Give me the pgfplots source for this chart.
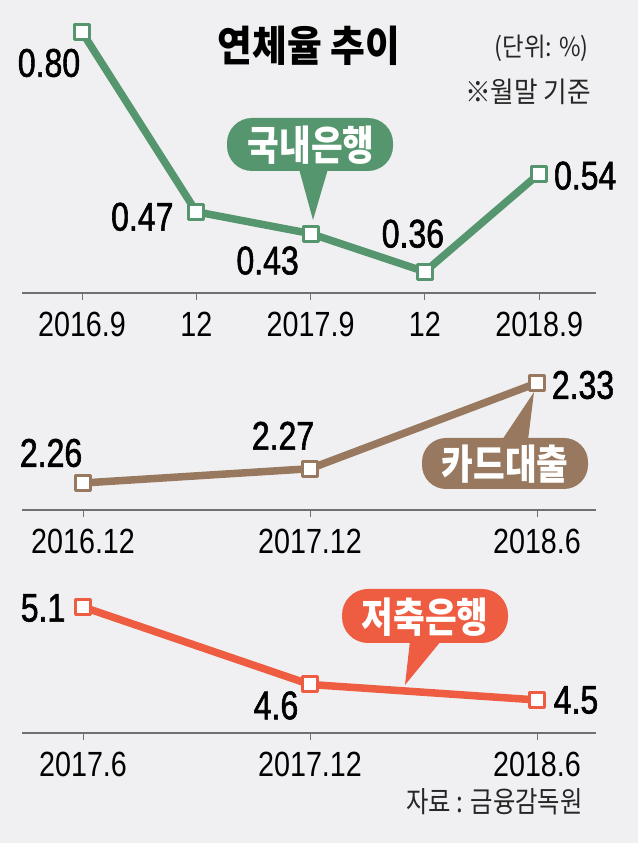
\documentclass[border=0pt]{standalone}
\usepackage{pgfplots}
\pgfplotsset{compat=1.18}
\usepackage{fontspec}
\newfontfamily\cjk[FakeStretch=0.9]{Noto Sans CJK KR}
\newfontfamily\cjkc[FakeStretch=0.84]{Noto Sans CJK KR}
\newfontfamily\numfont[FakeStretch=0.82]{Liberation Sans}
\newfontfamily\lblfont[FakeStretch=0.8,FakeBold=1.4]{Liberation Sans}
\definecolor{bg}{HTML}{F0F0F2}
\definecolor{cgreen}{HTML}{56966E}
\definecolor{cbrown}{HTML}{98795F}
\definecolor{cred}{HTML}{EE5C42}
\definecolor{axgray}{HTML}{707070}
\pgfplotsset{
  panel/.style={
    scale only axis, width=574pt, clip=false,
    axis x line*=bottom, axis y line=none,
    axis line style={axgray, line width=1.1pt},
    xtick align=outside, major tick length=7pt,
    xtick style={axgray, line width=0.9pt},
    ytick=\empty,
    xticklabel style={font=\numfont\fontsize{35}{35}\selectfont, inner sep=0pt, anchor=north, yshift=-11.5pt, text=black},
    every axis plot/.append style={line width=7.5pt, line join=round, mark=square*, mark size=7.5pt,
      mark options={fill=white, line width=3pt}},
  },
}
\tikzset{dl/.style={font=\lblfont\fontsize{40}{40}\selectfont, inner sep=0pt, anchor=center, text=black}}
\begin{document}
\begin{tikzpicture}
\path[use as bounding box, fill=bg] (0,0) rectangle (638pt,843pt);
\begin{scope}[x=1pt, y=-1pt, yshift=843pt]
  % callouts
  \fill[cgreen, rounded corners=25pt] (227,118) rectangle (393,171);
  \fill[cgreen] (299,169) -- (313,220) -- (328,169) -- cycle;
  \fill[cbrown, rounded corners=24pt] (422,438) rectangle (588,489);
  \fill[cbrown] (502,440) -- (534,392) -- (528,440) -- cycle;
  \fill[cred, rounded corners=26pt] (342,589) rectangle (508,643);
  \fill[cred] (410,641) -- (405,685) -- (441,641) -- cycle;
\end{scope}

% Panel 1: domestic banks
\begin{axis}[panel, at={(22pt,550pt)}, anchor=south west, height=273pt,
  xmin=-0.525, xmax=4.497, ymin=0.321, ymax=0.822,
  xtick={0,1,2,3,4}, xticklabels={2016.9,12,2017.9,12,2018.9}]
  \addplot[cgreen] coordinates {(0,0.80) (1,0.47) (2,0.43) (3,0.36) (4,0.54)};
  \node[dl, xshift=-33pt, yshift=-31pt] at (axis cs:0,0.80) {0.80};
  \node[dl, xshift=-54pt, yshift=-5pt] at (axis cs:1,0.47) {0.47};
  \node[dl, xshift=-43pt, yshift=-27pt] at (axis cs:2,0.43) {0.43};
  \node[dl, xshift=-12pt, yshift=38pt] at (axis cs:3,0.36) {0.36};
  \node[dl, xshift=46pt, yshift=-2pt] at (axis cs:4,0.54) {0.54};
\end{axis}

% Panel 2: card loans
\begin{axis}[panel, at={(22pt,333pt)}, anchor=south west, height=140pt,
  xmin=-0.269, xmax=2.26, ymin=2.2411, ymax=2.3391,
  xtick={0,1,2}, xticklabels={2016.12,2017.12,2018.6}]
  \addplot[cbrown] coordinates {(0,2.26) (1,2.27) (2,2.33)};
  \node[dl, xshift=-32pt, yshift=30pt] at (axis cs:0,2.26) {2.26};
  \node[dl, xshift=-27pt, yshift=33pt] at (axis cs:1,2.27) {2.27};
  \node[dl, xshift=46pt, yshift=-2pt] at (axis cs:2,2.33) {2.33};
\end{axis}

% Panel 3: savings banks
\begin{axis}[panel, at={(22pt,110pt)}, anchor=south west, height=143pt,
  xmin=-0.269, xmax=2.26, ymin=4.287, ymax=5.2097,
  xtick={0,1,2}, xticklabels={2017.6,2017.12,2018.6}]
  \addplot[cred] coordinates {(0,5.1) (1,4.6) (2,4.5)};
  \node[dl, xshift=-40pt, yshift=-1pt] at (axis cs:0,5.1) {5.1};
  \node[dl, xshift=-34pt, yshift=-21pt] at (axis cs:1,4.6) {4.6};
  \node[dl, xshift=39pt, yshift=0pt] at (axis cs:2,4.5) {4.5};
\end{axis}

\begin{scope}[x=1pt, y=-1pt, yshift=843pt]
  \node[font=\cjk\bfseries\fontsize{42}{42}\selectfont, inner sep=0pt] at (309,46) {연체율 추이};
  \node[font=\cjk\fontsize{26}{26}\selectfont, inner sep=0pt, anchor=east, text=black!85] at (589,48) {(단위: \%)};
  \node[font=\cjk\fontsize{28.5}{28.5}\selectfont, inner sep=0pt, anchor=east, text=black!85] at (591,92) {※월말 기준};
  \node[font=\cjkc\bfseries\fontsize{41}{41}\selectfont, inner sep=0pt, text=white] at (311,145) {국내은행};
  \node[font=\cjkc\bfseries\fontsize{41}{41}\selectfont, inner sep=0pt, text=white] at (505,464) {카드대출};
  \node[font=\cjkc\bfseries\fontsize{41}{41}\selectfont, inner sep=0pt, text=white] at (425,617) {저축은행};
  \node[font=\cjkc\fontsize{29}{29}\selectfont, inner sep=0pt, anchor=east, text=black!85] at (583,802) {자료 : 금융감독원};
\end{scope}
\end{tikzpicture}
\end{document}
